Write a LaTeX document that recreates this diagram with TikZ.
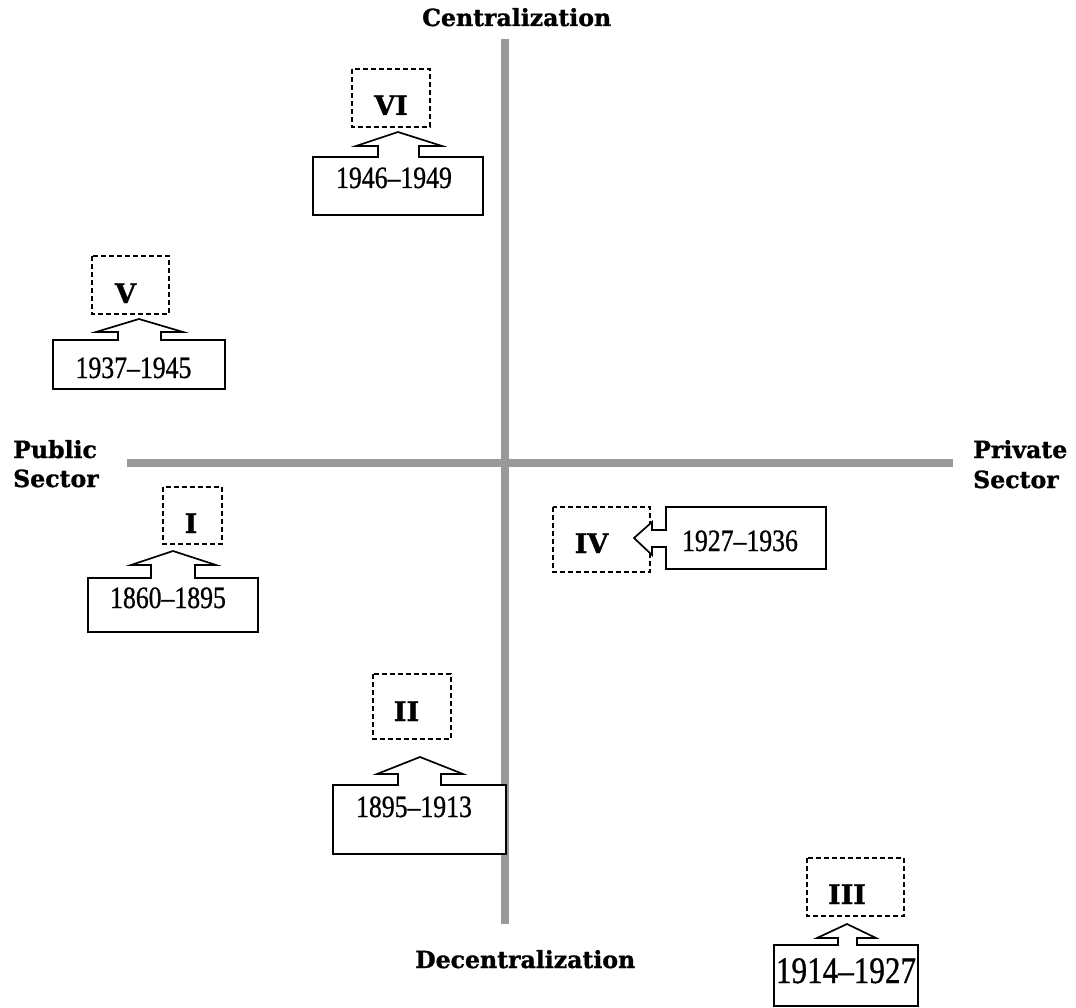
\documentclass[tikz,border=0pt]{standalone}
\usepackage{fontspec}
\newfontfamily\labfont{DejaVu Serif}[BoldFeatures={FakeBold=1.2}]
\newfontfamily\yearfont[FakeStretch=0.83,FakeBold=0.8]{Liberation Serif}
\begin{document}
\begin{tikzpicture}[x=1pt,y=-1pt,
  axis/.style={line width=8pt,draw={rgb,255:red,153;green,153;blue,153}},
  axislabel/.style={inner sep=0pt,anchor=base west,font=\labfont\bfseries\fontsize{23.6}{28}\selectfont},
  numlabel/.style={inner sep=0pt,anchor=base,font=\labfont\bfseries\fontsize{27}{32}\selectfont},
  yearlabel/.style={inner sep=0pt,anchor=base,font=\yearfont\fontsize{31}{36}\selectfont},
  dashbox/.style={draw,line width=1.7pt,dash pattern=on 5pt off 3pt},
  callout/.style={draw,line width=1.7pt,line join=miter,fill=white}]
\useasboundingbox (0,0) rectangle (1076,1008);
% axes
\coordinate (vt) at (505,39);
\coordinate (vb) at (505,924);
\coordinate (hl) at (127,463);
\coordinate (hr) at (953,463);
\draw[axis] (vt) -- (vb);
\draw[axis] (hl) -- (hr);
% axis labels
\node[axislabel] (cen) at (422,26) {Centralization};
\node[axislabel] (dec) at (415,968) {Decentralization};
\node[axislabel] (pub1) at (13,458) {Public};
\node[axislabel] (pub2) at (13,487) {Sector};
\node[axislabel] (pri1) at (973,458) {Private};
\node[axislabel] (pri2) at (973,488) {Sector};
% dashed boxes
\draw[dashbox] (352,69) rectangle (430,127);
\draw[dashbox] (92,256) rectangle (169,314);
\draw[dashbox] (553,507) rectangle (650,572);
\draw[dashbox] (373,674) rectangle (451,739);
\draw[dashbox] (807,858) rectangle (904,916);
\draw[dashbox] (163,487) rectangle (222,544);
% callouts
\draw[callout] (313,157) -- (378,157) -- (378,146) -- (356,146) -- (398,132) -- (442,146) -- (419,146) -- (419,157) -- (483,157) -- (483,215) -- (313,215) -- cycle;
\draw[callout] (53,340) -- (118,340) -- (118,332) -- (96,332) -- (139,319) -- (183,332) -- (161,332) -- (161,340) -- (225,340) -- (225,389) -- (53,389) -- cycle;
\draw[callout] (88,578) -- (151,578) -- (151,565) -- (131,565) -- (173,551) -- (216,565) -- (195,565) -- (195,578) -- (258,578) -- (258,632) -- (88,632) -- cycle;
\draw[callout] (333,785) -- (398,785) -- (398,774) -- (377,774) -- (420,757) -- (463,774) -- (441,774) -- (441,785) -- (506,785) -- (506,854) -- (333,854) -- cycle;
\draw[callout] (774,945) -- (838,945) -- (838,938) -- (817,938) -- (847,924) -- (876,938) -- (857,938) -- (857,945) -- (918,945) -- (918,1006) -- (774,1006) -- cycle;
\draw[callout] (666,507) -- (826,507) -- (826,569) -- (666,569) -- (666,547) -- (652,547) -- (652,555) -- (634,538) -- (652,522) -- (652,530) -- (666,530) -- cycle;
% numerals
\node[numlabel] (n6) at (391,115) {VI};
\node[numlabel] (n5) at (125.5,303) {V};
\node[numlabel] (n4) at (591.5,553) {IV};
\node[numlabel] (n2) at (406.5,721) {II};
\node[numlabel] (n3) at (847,904) {III};
\node[numlabel] (n1) at (191,533) {I};
% years
\node[yearlabel] (y6) at (394,188) {1946\textendash1949};
\node[yearlabel] (y5) at (133.5,378) {1937\textendash1945};
\node[yearlabel] (y4) at (740,551) {1927\textendash1936};
\node[yearlabel] (y2) at (414,817) {1895\textendash1913};
\node[yearlabel,font=\yearfont\fontsize{37.5}{42}\selectfont] (y3) at (846,983) {1914\textendash1927};
\node[yearlabel] (y1) at (168,608) {1860\textendash1895};
\end{tikzpicture}
\end{document}
